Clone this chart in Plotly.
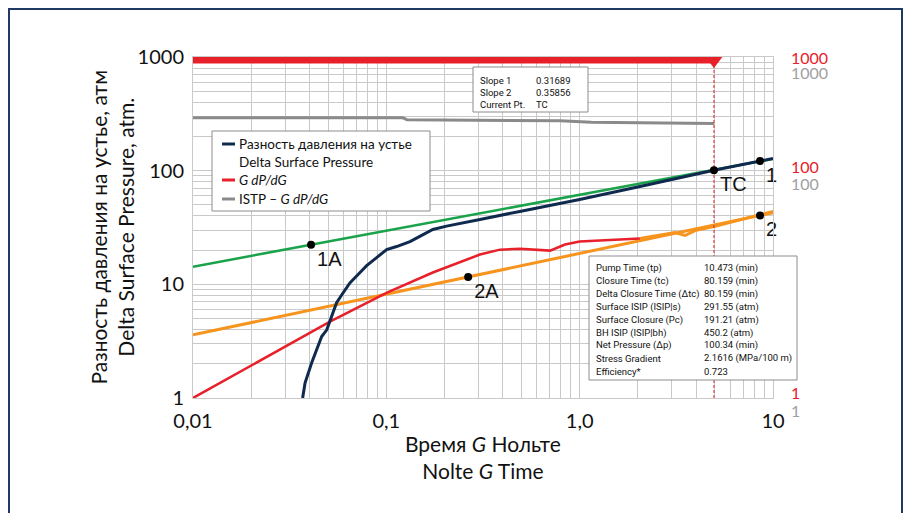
import plotly.graph_objects as go

# ---------------- data ----------------
# Delta surface pressure (atm) vs Nolte G time
g_dsp = [0.0369, 0.038, 0.0411, 0.0436, 0.0463, 0.0492, 0.0522, 0.0553, 0.0598, 0.0648,
         0.0731, 0.0791, 0.0891, 0.1004, 0.113, 0.1325, 0.149, 0.174, 0.205, 0.261,
         0.305, 0.49, 1.0, 2.05, 4.19, 4.95, 10.0]
dsp = [1.0, 1.36, 2.04, 2.65, 3.47, 3.98, 5.21, 6.89, 8.44, 10.3,
       12.7, 14.6, 17.2, 20.2, 21.5, 23.8, 26.4, 30.4, 32.5, 35.0,
       37.2, 43.8, 55.8, 72.7, 94.7, 100.7, 128.0]

# G dP/dG
g_gdp = [0.01, 0.0511, 0.1008, 0.174, 0.305, 0.387, 0.491, 0.623, 0.703, 0.84,
         1.0, 1.27, 1.62, 2.05, 2.6, 3.11, 3.51, 3.95, 4.95, 6.75, 10.0]
gdp = [1.0, 4.69, 8.44, 12.7, 18.3, 20.2, 20.6, 20.2, 19.8, 22.4,
       23.8, 24.3, 24.8, 25.3, 26.9, 28.6, 26.9, 29.7, 32.3, 37.2, 43.8]
gdp_split = 13  # from this point on the curve is drawn in the fit colour

# ISTP - G dP/dG
g_istp = [0.01, 0.122, 0.128, 0.5, 0.79, 1.15, 2.9, 4.95]
istp = [291.5, 291.5, 280.0, 278.0, 275.0, 266.0, 261.0, 260.0]

# straight-line fits (slope 1 / slope 2)
fit_g = [0.01, 10.0]
fit1 = [14.3, 127.0]
fit2 = [3.59, 42.7]

# marked points
pts_g = [0.0408, 0.265, 8.57, 8.57, 4.95]
pts_p = [22.3, 11.6, 121.6, 40.4, 100.7]
pts_lbl = ["1A", "2A", "1", "2", "TC"]

# closure time marker
tc_g = 4.95
bar_p = 1000.0
bar_start = 0.01
dash_p = [1.0, 1000.0]

# tick labels
x_dec = [0.01, 0.1, 1.0, 10.0]
x_dec_lbl = ["0,01", "0,1", "1,0", "10"]
y_dec = [1, 10, 100, 1000]
y_dec_lbl = ["1", "10", "100", "1000"]

slope_rows = [("Slope 1", "0.31689"), ("Slope 2", "0.35856"), ("Current Pt.", "TC")]
info_lbl = ["Pump Time (tp)", "Closure Time (tc)", "Delta Closure Time (\u0394tc)",
            "Surface ISIP (ISIP|s)", "Surface Closure (Pc)", "BH ISIP (ISIP|bh)",
            "Net Pressure (\u0394p)", "Stress Gradient", "Efficiency*"]
info_val = ["10.473 (min)", "80.159 (min)", "80.159 (min)", "291.55 (atm)", "191.21 (atm)",
            "450.2 (atm)", "100.34 (min)", "2.1616 (MPa/100 m)", "0.723"]

# ---------------- styling ----------------
NAVY = "#0f2a4e"
RED = "#e8202a"
GREEN = "#1ba34b"
ORANGE = "#f7941d"
GRAY = "#8a8a8a"
GRID = "#c9c9c9"
FONT = "Lato, Roboto, sans-serif"
NARROW = "Roboto, sans-serif"

L, R, T, B = 193, 133, 57, 115
W, H = 906, 513
PW, PH = W - L - R, H - T - B


def PX(px):
    return (px - L) / PW


def PY(py):
    return (H - B - py) / PH


def all_ticks(lo_exp, hi_exp):
    vals = []
    for k in range(lo_exp, hi_exp):
        for m in range(1, 10):
            vals.append(round(m * 10 ** k, 6))
    vals.append(round(10 ** hi_exp, 6))
    return vals


x_tv = all_ticks(-2, 1)
y_tv = all_ticks(0, 3)
x_tt = [x_dec_lbl[x_dec.index(v)] if v in x_dec else "" for v in x_tv]
y_tt = [y_dec_lbl[y_dec.index(v)] if v in y_dec else "" for v in y_tv]

fig = go.Figure()

fig.add_trace(go.Scatter(x=g_istp, y=istp, mode="lines", line=dict(color=GRAY, width=3)))
fig.add_trace(go.Scatter(x=fit_g, y=fit1, mode="lines", line=dict(color=GREEN, width=2.5)))
fig.add_trace(go.Scatter(x=fit_g, y=fit2, mode="lines", line=dict(color=ORANGE, width=3)))
fig.add_trace(go.Scatter(x=g_gdp[:gdp_split + 1], y=gdp[:gdp_split + 1], mode="lines",
                         line=dict(color=RED, width=2.5)))
fig.add_trace(go.Scatter(x=g_gdp[gdp_split:], y=gdp[gdp_split:], mode="lines",
                         line=dict(color=ORANGE, width=3)))
fig.add_trace(go.Scatter(x=g_dsp, y=dsp, mode="lines", line=dict(color=NAVY, width=3)))
fig.add_trace(go.Scatter(x=[tc_g, tc_g], y=dash_p, mode="lines",
                         line=dict(color=RED, width=1, dash="3px,2px")))
fig.add_trace(go.Scatter(x=[bar_start, tc_g], y=[bar_p, bar_p], mode="lines",
                         line=dict(color=RED, width=13)))
fig.add_trace(go.Scatter(x=[tc_g], y=[bar_p], mode="markers",
                         marker=dict(symbol="triangle-down", size=22, color=RED)))
fig.add_trace(go.Scatter(x=pts_g, y=pts_p, mode="markers+text", text=pts_lbl,
                         textposition="bottom right", cliponaxis=False,
                         textfont=dict(family="Liberation Sans, Arial, sans-serif", size=20, color="#111"),
                         marker=dict(color="#000", size=8)))

axis_common = dict(type="log", showgrid=True, gridcolor=GRID, gridwidth=1, ticks="",
                   showline=True, linecolor=GRID, linewidth=1, mirror=True, zeroline=False,
                   tickfont=dict(family=FONT, size=20, color="#111"), tickmode="array")

fig.update_xaxes(range=[-2, 1], tickvals=x_tv, ticktext=x_tt, ticklabelstandoff=5, **axis_common)
fig.update_yaxes(range=[0, 3], tickvals=y_tv, ticktext=y_tt, ticklabelstandoff=4, **axis_common)

shapes = []
ann = []

# outer frame
shapes.append(dict(type="rect", xref="paper", yref="paper", x0=PX(9), x1=PX(902), y0=PY(540), y1=PY(9),
                   line=dict(color="#1f3864", width=2), fillcolor="rgba(0,0,0,0)"))

# legend box
shapes.append(dict(type="rect", xref="paper", yref="paper", x0=PX(212), x1=PX(430), y0=PY(211), y1=PY(131),
                   line=dict(color="#8c8c8c", width=1), fillcolor="white"))
leg = [(144, NAVY, "Разность давления на устье"), (162, None, "Delta Surface Pressure"),
       (180, RED, "<i>G dP/dG</i>"), (199, GRAY, "ISTP \u2013 <i>G dP/dG</i>")]
for py, col, txt in leg:
    if col:
        shapes.append(dict(type="line", xref="paper", yref="paper", x0=PX(222), x1=PX(235), y0=PY(py), y1=PY(py),
                           line=dict(color=col, width=3)))
    ann.append(dict(xref="paper", yref="paper", x=PX(237), y=PY(py), xanchor="left", yanchor="middle",
                    text=txt, showarrow=False, font=dict(family=FONT, size=13.5, color="#111")))

# slope box
shapes.append(dict(type="rect", xref="paper", yref="paper", x0=PX(473), x1=PX(588), y0=PY(112), y1=PY(67),
                   line=dict(color="#8c8c8c", width=1), fillcolor="white"))
for i, (a, b) in enumerate(slope_rows):
    py = 80 + i * 12
    ann.append(dict(xref="paper", yref="paper", x=PX(478), y=PY(py), xanchor="left", yanchor="middle",
                    text=a, showarrow=False, font=dict(family=NARROW, size=9.5, color="#111")))
    ann.append(dict(xref="paper", yref="paper", x=PX(534), y=PY(py), xanchor="left", yanchor="middle",
                    text=b, showarrow=False, font=dict(family=NARROW, size=9.5, color="#111")))

# info box
shapes.append(dict(type="rect", xref="paper", yref="paper", x0=PX(589), x1=PX(797), y0=PY(380), y1=PY(256),
                   line=dict(color="#8c8c8c", width=1), fillcolor="white"))
for i, (a, b) in enumerate(zip(info_lbl, info_val)):
    py = 268 + i * 12.9
    ann.append(dict(xref="paper", yref="paper", x=PX(594), y=PY(py), xanchor="left", yanchor="middle",
                    text=a, showarrow=False, font=dict(family=NARROW, size=9.5, color="#111")))
    ann.append(dict(xref="paper", yref="paper", x=PX(702), y=PY(py), xanchor="left", yanchor="middle",
                    text=b, showarrow=False, font=dict(family=NARROW, size=9.5, color="#111")))

# right-side secondary scale labels (red: G dP/dG, gray: ISTP)
right = [(3, 0, RED, "1000"), (3, -15, "#a0a0a0", "1000"), (2, 4, RED, "100"), (2, -13, "#a0a0a0", "100"),
         (0, 6, RED, "1"), (0, -12, "#a0a0a0", "1")]
for yv, sh, col, txt in right:
    ann.append(dict(xref="paper", yref="y", x=PX(789), y=yv, yshift=sh, xanchor="left", yanchor="middle",
                    text=txt, showarrow=False, font=dict(family=FONT, size=16, color=col)))

# axis titles
ann.append(dict(xref="paper", yref="paper", x=0.5, y=PY(429), xanchor="center", yanchor="top",
                text="Время <i>G</i> Нольте<br>Nolte <i>G</i> Time", showarrow=False,
                font=dict(family=FONT, size=21, color="#111")))
ann.append(dict(xref="paper", yref="paper", x=PX(111), y=0.5, xanchor="center", yanchor="middle",
                textangle=-90, text="Разность давления на устье, атм<br>Delta Surface Pressure, atm.",
                showarrow=False, font=dict(family=FONT, size=21, color="#111")))

fig.update_layout(width=W, height=H, margin=dict(l=L, r=R, t=T, b=B), showlegend=False,
                  plot_bgcolor="white", paper_bgcolor="white", shapes=shapes, annotations=ann,
                  hovermode=False)

fig.write_html("out.html", config={"displayModeBar": False})
